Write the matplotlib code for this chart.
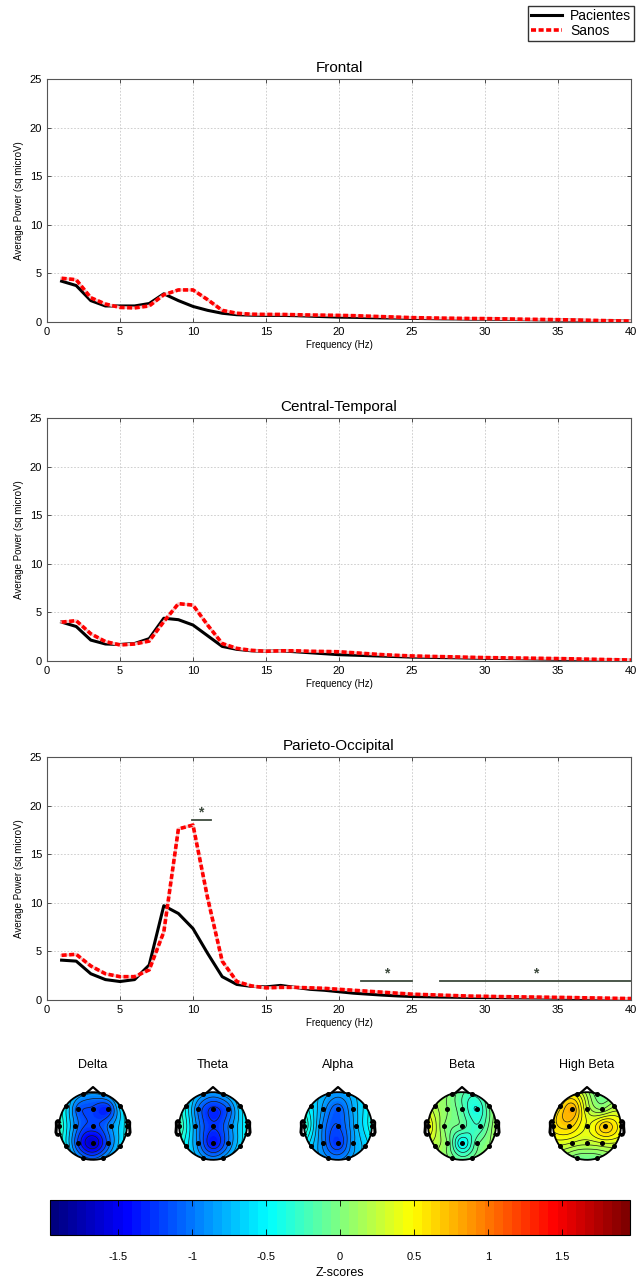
import numpy as np
import matplotlib
matplotlib.use("Agg")
import matplotlib.pyplot as plt
from matplotlib.lines import Line2D
from matplotlib.cm import ScalarMappable
from matplotlib.colors import Normalize, LinearSegmentedColormap

plt.rcParams['font.family'] = ['Liberation Sans', 'DejaVu Sans']
plt.rcParams['contour.negative_linestyle'] = 'solid'

# ---------------- data ----------------
freq = list(range(1, 41))

frontal_pac = [4.2, 3.75, 2.2, 1.65, 1.65, 1.65, 1.9, 2.9, 2.2, 1.6,
               1.2, 0.9, 0.75, 0.7, 0.68, 0.68, 0.65, 0.6, 0.55, 0.5,
               0.48, 0.45, 0.42, 0.4, 0.37, 0.35, 0.33, 0.32, 0.3, 0.3,
               0.28, 0.26, 0.24, 0.22, 0.2, 0.18, 0.16, 0.14, 0.12, 0.1]
frontal_san = [4.5, 4.35, 2.5, 1.85, 1.5, 1.45, 1.65, 2.8, 3.3, 3.3,
               2.3, 1.2, 0.9, 0.8, 0.78, 0.78, 0.75, 0.72, 0.7, 0.68,
               0.65, 0.6, 0.55, 0.5, 0.45, 0.42, 0.4, 0.38, 0.36, 0.35,
               0.33, 0.3, 0.28, 0.26, 0.24, 0.21, 0.18, 0.15, 0.12, 0.1]

central_pac = [4.0, 3.55, 2.15, 1.75, 1.7, 1.8, 2.3, 4.4, 4.25, 3.7,
               2.6, 1.5, 1.2, 1.05, 1.0, 1.05, 0.95, 0.85, 0.75, 0.65,
               0.6, 0.55, 0.5, 0.45, 0.4, 0.38, 0.35, 0.33, 0.3, 0.28,
               0.26, 0.24, 0.22, 0.2, 0.18, 0.16, 0.13, 0.1, 0.08, 0.06]
central_san = [4.0, 4.15, 2.8, 2.0, 1.65, 1.75, 2.05, 4.05, 5.9, 5.75,
               3.7, 1.8, 1.3, 1.1, 1.0, 1.05, 1.05, 1.0, 0.98, 0.95,
               0.85, 0.75, 0.65, 0.58, 0.52, 0.48, 0.45, 0.42, 0.38, 0.35,
               0.33, 0.31, 0.29, 0.27, 0.25, 0.22, 0.19, 0.16, 0.13, 0.1]

pariet_pac = [4.1, 4.0, 2.7, 2.1, 1.9, 2.1, 3.6, 9.7, 8.9, 7.35,
              4.8, 2.4, 1.6, 1.4, 1.35, 1.5, 1.3, 1.1, 1.0, 0.85,
              0.7, 0.6, 0.5, 0.42, 0.36, 0.33, 0.3, 0.28, 0.26, 0.25,
              0.24, 0.22, 0.21, 0.2, 0.19, 0.17, 0.15, 0.13, 0.11, 0.1]
pariet_san = [4.6, 4.7, 3.5, 2.7, 2.4, 2.4, 3.1, 7.0, 17.6, 18.0,
              10.5, 4.0, 1.9, 1.45, 1.25, 1.3, 1.3, 1.25, 1.2, 1.1,
              1.0, 0.9, 0.8, 0.7, 0.6, 0.55, 0.5, 0.45, 0.4, 0.38,
              0.35, 0.33, 0.31, 0.29, 0.27, 0.25, 0.22, 0.2, 0.17, 0.15]

region_titles = ["Frontal", "Central-Temporal", "Parieto-Occipital"]
series_names = ["Pacientes", "Sanos"]

# significance bars (Parieto-Occipital): start Hz, end Hz, height
sig_start = [9.9, 21.5, 26.9]
sig_end = [11.2, 25.0, 40.0]
sig_level = [18.5, 1.95, 1.95]

# topographic maps: 10-20 electrodes
electrodes = ["Fp1", "Fp2", "F7", "F3", "Fz", "F4", "F8", "T3", "C3", "Cz",
              "C4", "T4", "T5", "P3", "Pz", "P4", "T6", "O1", "O2"]
elec_x = [-0.31, 0.31, -0.81, -0.44, 0.0, 0.44, 0.81, -1.0, -0.53, 0.0,
          0.53, 1.0, -0.81, -0.44, 0.0, 0.44, 0.81, -0.31, 0.31]
elec_y = [0.95, 0.95, 0.59, 0.51, 0.51, 0.51, 0.59, 0.0, 0.0, 0.0,
          0.0, 0.0, -0.59, -0.51, -0.51, -0.51, -0.59, -0.95, -0.95]

bands = ["Delta", "Theta", "Alpha", "Beta", "High Beta"]
#          Fp1   Fp2   F7    F3    Fz    F4    F8    T3    C3    Cz    C4    T4    T5    P3    Pz    P4    T6    O1    O2
z_delta = [-0.8, -0.8, -0.5, -1.1, -1.2, -1.3, -0.6, -0.2, -0.9, -1.2, -0.9, -0.45, -0.5, -1.2, -1.65, -1.1, -0.6, -0.9, -0.85]
z_theta = [-0.8, -0.8, -0.45, -1.0, -1.3, -1.1, -0.6, -0.15, -0.8, -1.25, -0.9, -0.45, -0.5, -0.9, -1.4, -1.0, -0.6, -0.8, -0.8]
z_alpha = [-0.8, -0.8, -0.55, -0.85, -1.1, -0.8, -0.55, -0.25, -0.85, -1.15, -0.75, -0.4, -0.65, -0.95, -1.25, -0.85, -0.65, -0.9, -0.85]
z_beta = [0.0, -0.25, 0.2, 0.05, -0.15, -0.4, -0.05, 0.5, 0.05, -0.1, -0.25, 0.15, 0.2, 0.05, -0.5, -0.1, 0.05, 0.0, -0.05]
z_hbeta = [0.45, -0.05, 0.55, 0.8, 0.3, 0.1, 0.2, 0.55, 0.65, 0.4, 0.7, 0.45, 0.3, 0.3, 0.25, 0.3, 0.25, -0.05, -0.05]
band_values = [z_delta, z_theta, z_alpha, z_beta, z_hbeta]

zlim = 1.96
cbar_ticks = [-1.5, -1, -0.5, 0, 0.5, 1, 1.5]

# ---------------- figure ----------------
W, H = 637, 1283
fig = plt.figure(figsize=(W / 100, H / 100), dpi=100)


def fr(x0, y_top, w, h):
    return [x0 / W, 1 - (y_top + h) / H, w / W, h / H]


series = [(frontal_pac, frontal_san), (central_pac, central_san),
          (pariet_pac, pariet_san)]
tops = [79, 418, 757]
axes = []
for i, (pac, san) in enumerate(series):
    ax = fig.add_axes(fr(47, tops[i], 584, 243))
    axes.append(ax)
    ax.plot(freq, pac, color='black', lw=2.2, zorder=3)
    ax.plot(freq, san, color='#f6c4c4', lw=2.0, zorder=4)
    ax.plot(freq, san, color='red', lw=2.6, linestyle=(0, (1.4, 0.7)), zorder=5)
    ax.set_xlim(0, 40)
    ax.set_ylim(0, 25)
    ax.set_xticks(range(0, 41, 5))
    ax.set_yticks(range(0, 26, 5))
    ax.grid(True, color='#c8c8c8', linestyle=(0, (2, 2)), lw=0.6)
    ax.tick_params(direction='in', top=True, right=True, labelsize=8,
                   length=3, width=0.6, colors='#333333', labelcolor='black')
    for s in ax.spines.values():
        s.set_color('#555555')
        s.set_linewidth(0.8)
    ax.set_title(region_titles[i], fontsize=11, pad=5)
    ax.set_xlabel("Frequency (Hz)", fontsize=7, labelpad=2)
    ax.set_ylabel("Average Power (sq microV)", fontsize=7, labelpad=4)

axp = axes[2]
sig_color = '#3d4a3d'
for a, b, lv in zip(sig_start, sig_end, sig_level):
    axp.plot([a, b], [lv, lv], color=sig_color, lw=1.3, zorder=6)
    axp.text((a + b) / 2, lv + 0.05, "*", ha='center', va='bottom',
             fontsize=10, fontweight='bold', color=sig_color)

handles = [Line2D([], [], color='black', lw=2.2),
           Line2D([], [], color='red', lw=2.6, linestyle=(0, (1.4, 0.7)))]
fig.legend(handles, series_names, loc='upper right',
           bbox_to_anchor=(634 / W, 1 - 6 / H), fontsize=10,
           frameon=True, fancybox=False, edgecolor='black',
           borderpad=0.2, labelspacing=0.1, handlelength=2.2,
           handletextpad=0.6, borderaxespad=0)

# ---------------- topographic maps ----------------
ex = np.array(elec_x)
ey = np.array(elec_y)
# MATLAB-style jet with 64 levels
jet_ml = LinearSegmentedColormap.from_list(
    "jet_ml",
    [(0.0, (0, 0, 0.5)), (0.125, (0, 0, 1)), (0.375, (0, 1, 1)),
     (0.625, (1, 1, 0)), (0.875, (1, 0, 0)), (1.0, (0.5, 0, 0))], N=64)
cmap = jet_ml


def green(d):
    out = np.zeros_like(d)
    m = d > 0
    out[m] = d[m] ** 2 * (np.log(d[m]) - 1)
    return out


n = 120
gx, gy = np.meshgrid(np.linspace(-1, 1, n), np.linspace(-1, 1, n))
pts = np.column_stack([ex, ey])
D = np.sqrt(((pts[:, None, :] - pts[None, :, :]) ** 2).sum(-1))
G = green(D)
gp = np.column_stack([gx.ravel(), gy.ravel()])
Dg = np.sqrt(((gp[:, None, :] - pts[None, :, :]) ** 2).sum(-1))
Gg = green(Dg)
mask = np.sqrt(gx ** 2 + gy ** 2) > 1.0

# head outline parts
theta = np.linspace(0, 2 * np.pi, 200)
earX = np.array([.497, .510, .518, .5299, .5419, .54, .547, .532, .510, .489]) * 2
earY = np.array([.0555, .0775, .0783, .0746, .0555, -.0055, -.0932, -.1313, -.1384, -.1199]) * 2
noseX = np.array([0.09, 0.0, -0.09]) * 2
noseY = np.array([0.4954, 0.575, 0.4954]) * 2

centers = [93, 213, 338, 462, 587]
cy = 1126
half = 43
for k, vals in enumerate(band_values):
    v = np.array(vals)
    w = np.linalg.solve(G, v)
    Z = (Gg @ w).reshape(n, n)
    Zm = np.ma.array(Z, mask=mask)
    ax = fig.add_axes(fr(centers[k] - half, cy - half, 2 * half, 2 * half))
    ax.set_xlim(-1.27, 1.27)
    ax.set_ylim(-1.27, 1.27)
    ax.axis('off')
    ax.pcolormesh(gx, gy, Zm, cmap=cmap, vmin=-zlim, vmax=zlim,
                  shading='gouraud', rasterized=True)
    lv = np.linspace(Zm.min(), Zm.max(), 10)[1:-1]
    ax.contour(gx, gy, Zm, levels=lv, colors='#1a1a1a', linewidths=0.5,
               linestyles='solid')
    ax.plot(np.cos(theta), np.sin(theta), color='black', lw=1.3)
    ax.plot(earX, earY, color='black', lw=2.2)
    ax.plot(-earX, earY, color='black', lw=2.2)
    ax.plot(noseX, noseY, color='black', lw=1.6)
    ax.plot(ex, ey, 'o', color='black', ms=2.6)
    fig.text(centers[k] / W, 1 - 1065 / H, bands[k], ha='center',
             va='center', fontsize=9)

# ---------------- colorbar ----------------
cax = fig.add_axes(fr(50, 1200, 580, 35))
sm = ScalarMappable(norm=Normalize(-zlim, zlim), cmap=cmap)
cb = fig.colorbar(sm, cax=cax, orientation='horizontal', ticks=cbar_ticks)
cb.ax.set_xticklabels(["-1.5", "-1", "-0.5", "0", "0.5", "1", "1.5"])
cb.ax.tick_params(direction='in', top=True, bottom=True, length=4,
                  width=0.6, labelsize=8, pad=12)
cb.outline.set_linewidth(0.8)
cb.set_label("Z-scores", fontsize=9, labelpad=4)

fig.savefig("out.png", dpi=100)
